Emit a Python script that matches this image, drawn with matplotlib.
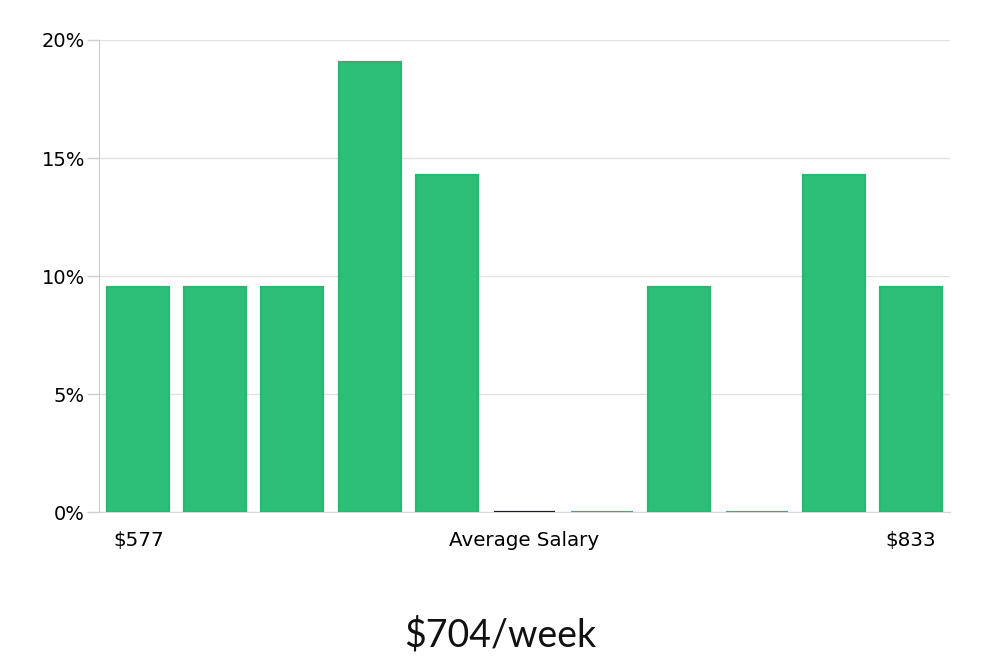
import matplotlib.pyplot as plt
from matplotlib.ticker import FuncFormatter

# salary distribution buckets (share of jobs, %)
shares = [9.52, 9.52, 9.52, 19.05, 14.29, 0, 0, 9.52, 0, 14.29, 9.52]
line_colors = ['#27b872'] * 11
line_colors[5] = '#1c1c2c'
low_label = '$577'
mid_label = 'Average Salary'
high_label = '$833'
title = '$704/week'

fig = plt.figure(figsize=(10, 6.6), dpi=100)
ax = fig.add_axes([0.099, 0.2242, 0.851, 0.7152])

ax.bar(range(len(shares)), shares, width=0.8, color='#2bbf78',
       edgecolor=line_colors, linewidth=1.6, zorder=3)

ax.set_xlim(-0.5, len(shares) - 0.5)
ax.set_ylim(0, 20)
ax.set_yticks([0, 5, 10, 15, 20])
ax.yaxis.set_major_formatter(FuncFormatter(lambda v, _: f'{v:.0f}%'))
ax.set_xticks([])
ax.tick_params(axis='y', length=9, width=1, color='#d0d0d0', labelsize=14, pad=1)
ax.grid(axis='y', color='#e2e2e2', linewidth=1, zorder=0)

for side in ['top', 'right']:
    ax.spines[side].set_visible(False)
ax.spines['left'].set_color('#cccccc')
ax.spines['bottom'].set_color('#d6d6d6')

trans = ax.get_xaxis_transform()
ax.text(-0.32, -0.06, low_label, transform=trans, ha='left', va='center', fontsize=14.3)
ax.text(0.5, -0.06, mid_label, transform=ax.transAxes, ha='center', va='center', fontsize=14.3)
ax.text(10.32, -0.06, high_label, transform=trans, ha='right', va='center', fontsize=14.3)

fig.text(0.5, 0.038, title, ha='center', va='center', fontsize=27,
         family='Lato', color='#111111')

fig.savefig('out.png', dpi=100)
